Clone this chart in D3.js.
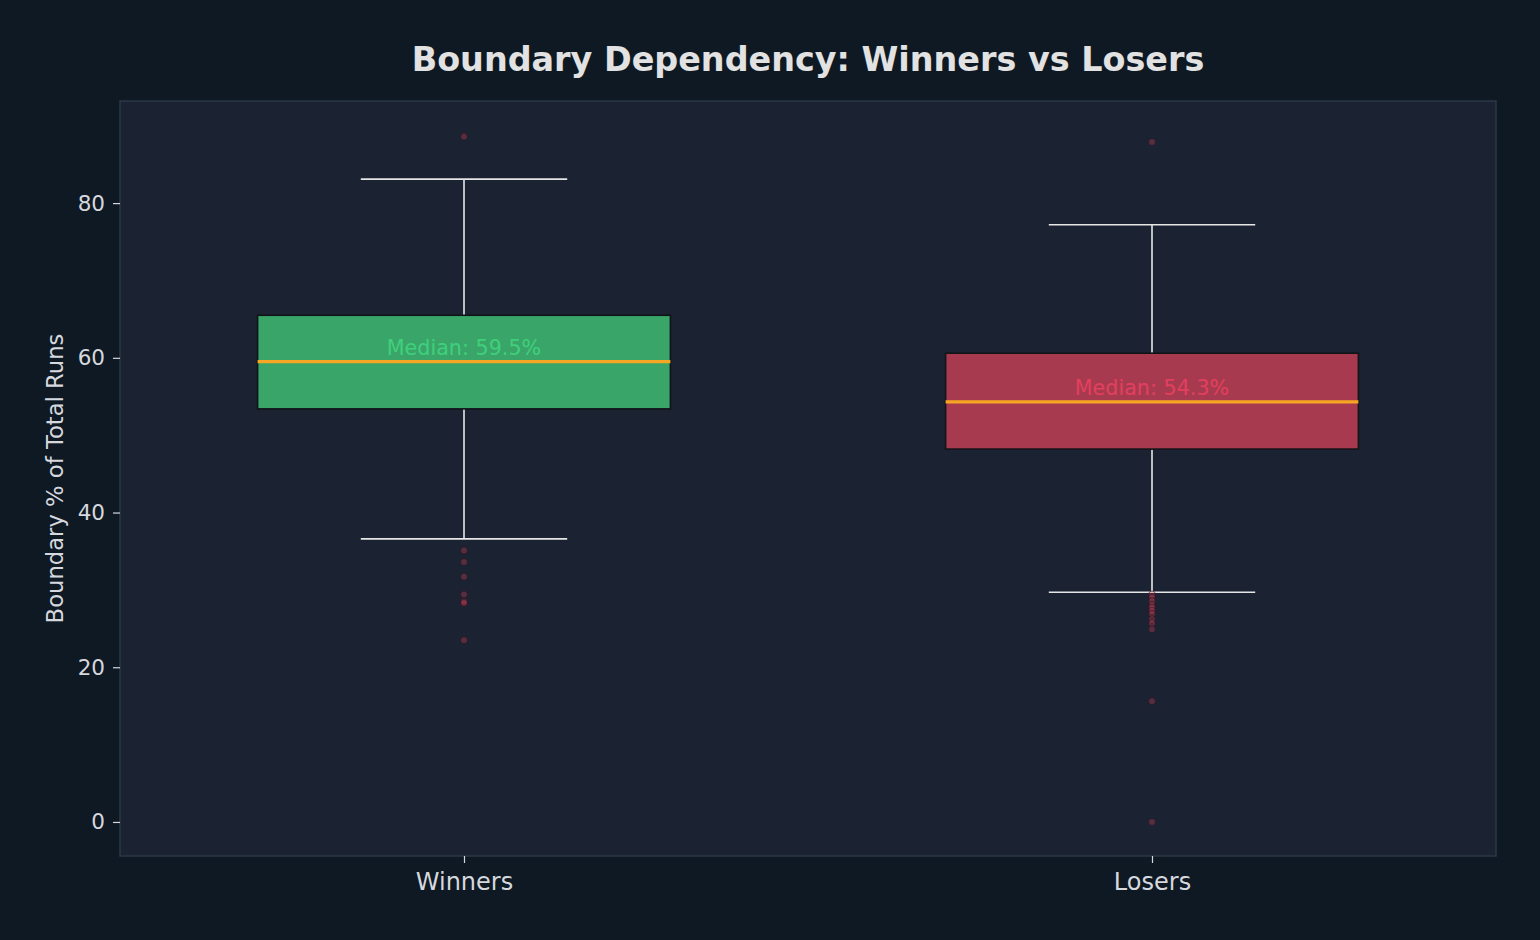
<!DOCTYPE html>
<html>
<head>
<meta charset="utf-8">
<script src="https://cdn.jsdelivr.net/npm/d3@7"></script>
<style>
  body { margin: 0; background: #0f1923; }
  text { font-family: "DejaVu Sans", sans-serif; }
</style>
</head>
<body>
<svg id="chart"></svg>
<script>
const width = 1540;
const height = 940;
const margin = { left: 120, right: 44, top: 101, bottom: 84 };

// data
const groups = ['Winners', 'Losers'];
const q1 = [53.4, 48.2];
const medians = [59.5, 54.3];
const q3 = [65.5, 60.6];
const whiskLow = [36.6, 29.7];
const whiskHigh = [83.1, 77.2];
const outliersWinners = [88.6, 35.1, 33.6, 31.7, 29.4, 28.5, 28.3, 23.5];
const outliersLosers = [87.9, 29.4, 29.0, 28.5, 28.0, 27.7, 27.3, 26.9, 26.2, 25.7, 24.9, 15.6, 0];
const yTicks = [0, 20, 40, 60, 80];

const boxFill = ['#3aa569', '#a83a50'];
const labelFill = ['#3fd07c', '#e2405e'];

const svg = d3.select('#chart').attr('width', width).attr('height', height);

svg.append('rect').attr('width', width).attr('height', height).attr('fill', '#0f1923');

const x = d3.scalePoint()
    .domain(groups)
    .range([margin.left, width - margin.right])
    .padding(0.5);

const y = d3.scaleLinear()
    .domain([-4.4, 93.2])
    .range([height - margin.bottom, margin.top]);

const step = x.step();
const boxW = step * 0.6;
const capW = step * 0.3;

// plot background
svg.append('rect')
    .attr('x', margin.left)
    .attr('y', margin.top)
    .attr('width', width - margin.left - margin.right)
    .attr('height', height - margin.top - margin.bottom)
    .attr('fill', '#1b2333')
    .attr('stroke', '#2a3847')
    .attr('stroke-width', 1.5);

// axes
const yAxis = svg.append('g')
    .attr('transform', `translate(${margin.left},0)`)
    .call(d3.axisLeft(y).tickValues(yTicks).tickSize(7).tickPadding(8));
const xAxis = svg.append('g')
    .attr('transform', `translate(0,${height - margin.bottom})`)
    .call(d3.axisBottom(x).tickSize(7).tickPadding(10));

[yAxis, xAxis].forEach(ax => {
    ax.select('.domain').remove();
    ax.selectAll('line').attr('stroke', '#d5d8de').attr('stroke-width', 1.2);
    ax.selectAll('text').attr('fill', '#d5d8de')
        .attr('font-family', '"DejaVu Sans", sans-serif');
});
yAxis.selectAll('text').attr('font-size', 21.5);
xAxis.selectAll('text').attr('font-size', 24);

// y label
svg.append('text')
    .attr('transform', `translate(63,${(margin.top + height - margin.bottom) / 2}) rotate(-90)`)
    .attr('text-anchor', 'middle')
    .attr('fill', '#d5d8de')
    .attr('font-size', 22.7)
    .text('Boundary % of Total Runs');

// title
svg.append('text')
    .attr('x', (margin.left + width - margin.right) / 2)
    .attr('y', 71)
    .attr('text-anchor', 'middle')
    .attr('fill', '#e2e2e2')
    .attr('font-size', 33.4)
    .attr('font-weight', 'bold')
    .text('Boundary Dependency: Winners vs Losers');

const outliers = [outliersWinners, outliersLosers];

groups.forEach((g, i) => {
    const cx = x(g);
    const grp = svg.append('g');

    // whiskers
    grp.append('line')
        .attr('x1', cx).attr('x2', cx)
        .attr('y1', y(q3[i])).attr('y2', y(whiskHigh[i]))
        .attr('stroke', '#e6e6e6').attr('stroke-width', 1.6);
    grp.append('line')
        .attr('x1', cx).attr('x2', cx)
        .attr('y1', y(q1[i])).attr('y2', y(whiskLow[i]))
        .attr('stroke', '#e6e6e6').attr('stroke-width', 1.6);
    [whiskHigh[i], whiskLow[i]].forEach(v => {
        grp.append('line')
            .attr('x1', cx - capW / 2).attr('x2', cx + capW / 2)
            .attr('y1', y(v)).attr('y2', y(v))
            .attr('stroke', '#e6e6e6').attr('stroke-width', 1.6);
    });

    // box
    grp.append('rect')
        .attr('x', cx - boxW / 2)
        .attr('y', y(q3[i]))
        .attr('width', boxW)
        .attr('height', y(q1[i]) - y(q3[i]))
        .attr('fill', boxFill[i])
        .attr('stroke', '#111418')
        .attr('stroke-width', 1.6);

    // median
    grp.append('line')
        .attr('x1', cx - boxW / 2).attr('x2', cx + boxW / 2)
        .attr('y1', y(medians[i])).attr('y2', y(medians[i]))
        .attr('stroke', '#f5a623').attr('stroke-width', 3.2);

    // outliers
    grp.selectAll('circle')
        .data(outliers[i])
        .enter().append('circle')
        .attr('cx', cx)
        .attr('cy', d => y(d))
        .attr('r', 3.5)
        .attr('fill', '#e94560')
        .attr('fill-opacity', 0.3)
        .attr('stroke', '#1a1018')
        .attr('stroke-opacity', 0.5)
        .attr('stroke-width', 1);

    // median label
    grp.append('text')
        .attr('x', cx)
        .attr('y', y(medians[i]) - 7)
        .attr('text-anchor', 'middle')
        .attr('fill', labelFill[i])
        .attr('font-size', 20.7)
        .text(`Median: ${medians[i].toFixed(1)}%`);
});
</script>
</body>
</html>
